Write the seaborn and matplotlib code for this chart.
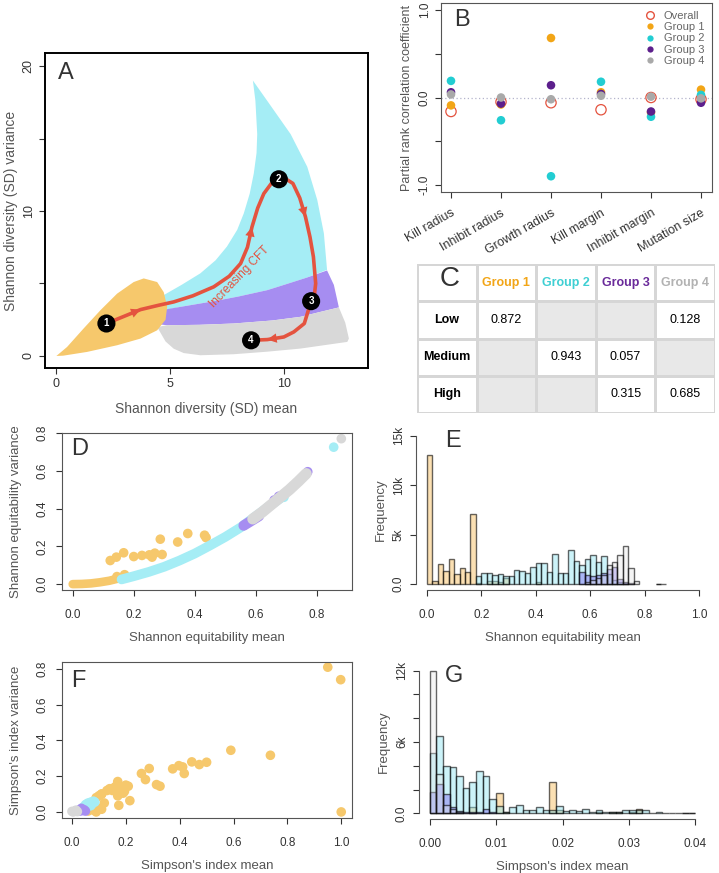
import numpy as np
import pandas as pd
import seaborn as sns
import matplotlib.pyplot as plt
from matplotlib.lines import Line2D
from matplotlib.colors import ListedColormap

sns.set_style('ticks')
plt.rcParams['font.family'] = ['Liberation Sans', 'DejaVu Sans']
plt.rcParams['xtick.color'] = '#333333'
plt.rcParams['ytick.color'] = '#333333'
plt.rcParams['axes.labelcolor'] = '#555555'

# group colours
c_g1, c_g2, c_g3, c_g4 = '#F6C86C', '#A5EDF5', '#A68DF1', '#D8D8D8'
dot_g1, dot_g2, dot_g3, dot_g4 = '#F2A516', '#22CDD2', '#5C1F8C', '#A9A9A9'
red = '#E4533F'

# ---------------- A: schematic regions ----------------
a_orange_x = [0.0, 0.47, 1.2, 1.94, 2.67, 3.4, 3.84, 4.43, 4.72, 4.87, 4.8, 4.43, 3.7, 2.67, 1.35, 0.3]
a_orange_y = [0.0, 0.62, 1.9, 3.16, 4.3, 5.1, 5.35, 5.1, 4.4, 3.4, 2.5, 1.77, 1.2, 0.74, 0.28, 0.02]
a_cyan_x = [8.64, 9.27, 10.3, 11.03, 11.47, 11.76, 11.9, 11.0, 10.0, 9.27, 8.0, 7.0, 6.33, 5.5, 4.6,
            4.72, 5.5, 6.33, 7.0, 7.5, 7.95, 8.24, 8.5, 8.68, 8.8, 8.83, 8.75]
a_cyan_y = [19.0, 17.6, 15.3, 13.05, 10.76, 8.46, 5.94, 5.4, 4.9, 4.54, 4.1, 3.8, 3.62, 3.4, 3.1,
            4.2, 4.9, 5.7, 6.6, 7.55, 8.7, 9.84, 11.2, 12.6, 14.0, 15.3, 17.6]
a_purple_x = [4.4, 5.5, 6.33, 7.0, 8.0, 9.27, 10.0, 11.0, 11.9, 12.2, 12.42, 11.5, 10.73, 9.5, 7.8, 6.3, 4.87, 4.4]
a_purple_y = [3.1, 3.4, 3.62, 3.8, 4.1, 4.54, 4.9, 5.4, 5.9, 4.9, 3.35, 3.0, 2.7, 2.45, 2.24, 2.15, 2.12, 2.2]
a_grey_x = [4.43, 4.87, 6.3, 7.8, 9.5, 10.73, 11.5, 12.42, 12.7, 12.86, 12.79, 11.8, 10.73, 9.3, 7.8, 6.33, 5.6, 5.16, 4.8]
a_grey_y = [2.0, 2.12, 2.15, 2.24, 2.45, 2.7, 3.0, 3.35, 2.3, 1.2, 0.97, 0.75, 0.51, 0.3, 0.12, 0.05, 0.2, 0.5, 1.0]
a_path_x = [2.2, 3.0, 3.7, 4.5, 5.16, 6.0, 6.92, 7.6, 8.1, 8.4, 8.6, 8.85, 9.12, 9.45, 9.78, 10.1, 10.4,
            10.7, 10.95, 11.15, 11.3, 11.4, 11.35, 11.2, 10.9, 10.44, 10.0, 9.27, 8.56]
a_path_y = [2.24, 2.75, 3.2, 3.5, 3.73, 4.15, 4.77, 5.5, 6.38, 7.5, 8.9, 10.2, 11.2, 11.9, 12.19, 12.2, 11.9,
            10.9, 9.6, 8.2, 6.84, 5.0, 4.3, 3.78, 2.24, 1.66, 1.31, 1.13, 1.08]
a_arrow_idx = [2, 10, 18, 27]
a_stage_x = [2.2, 9.78, 11.2, 8.56]
a_stage_y = [2.24, 12.19, 3.78, 1.08]
a_stage_lab = ['1', '2', '3', '4']

# ---------------- B: partial rank correlations ----------------
params = ['Kill radius', 'Inhibit radius', 'Growth radius', 'Kill margin', 'Inhibit margin', 'Mutation size']
prcc_overall = [-0.16, -0.05, -0.06, -0.14, 0.0, -0.02]
prcc_g1 = [-0.09, -0.08, 0.68, 0.06, -0.17, 0.09]
prcc_g2 = [0.19, -0.26, -0.90, 0.18, -0.22, 0.03]
prcc_g3 = [0.06, -0.07, 0.14, 0.04, -0.16, -0.06]
prcc_g4 = [0.035, 0.0, -0.02, 0.02, 0.01, -0.01]

# ---------------- C: table ----------------
tab_groups = ['Group 1', 'Group 2', 'Group 3', 'Group 4']
tab_levels = ['Low', 'Medium', 'High']
tab_low = [0.872, np.nan, np.nan, 0.128]
tab_medium = [np.nan, 0.943, 0.057, np.nan]
tab_high = [np.nan, np.nan, 0.315, 0.685]

# ---------------- D: Shannon equitability ----------------
d_g1_band_x = [0.0, 0.03, 0.06, 0.09, 0.12, 0.15, 0.17]
d_g1_band_y = [0.0, 0.001, 0.004, 0.01, 0.018, 0.03, 0.04]
d_g1_x = [0.123, 0.143, 0.167, 0.2, 0.227, 0.251, 0.26, 0.269, 0.287, 0.293, 0.344, 0.377, 0.432, 0.437, 0.145, 0.17]
d_g1_y = [0.125, 0.143, 0.166, 0.146, 0.152, 0.155, 0.143, 0.164, 0.238, 0.157, 0.223, 0.268, 0.259, 0.246, 0.04, 0.05]
d_g2_band_x = [0.16, 0.2, 0.25, 0.3, 0.35, 0.4, 0.45, 0.5, 0.55, 0.6, 0.65, 0.69]
d_g2_band_y = [0.025, 0.042, 0.065, 0.092, 0.125, 0.162, 0.205, 0.25, 0.3, 0.36, 0.42, 0.465]
d_g2_x = [0.855, 0.692]
d_g2_y = [0.725, 0.46]
d_g3_band_x = [0.56, 0.585, 0.61]
d_g3_band_y = [0.31, 0.335, 0.36]
d_g3_x = [0.66, 0.675, 0.77]
d_g3_y = [0.445, 0.465, 0.595]
d_g4_band_x = [0.59, 0.62, 0.65, 0.68, 0.71, 0.74, 0.765]
d_g4_band_y = [0.345, 0.38, 0.42, 0.46, 0.5, 0.545, 0.585]
d_g4_x = [0.88]
d_g4_y = [0.77]

# ---------------- E: histogram, bins of 0.02 ----------------
e_edges = [round(0.02 * i, 2) for i in range(45)]
e_g1 = [13100, 300, 2000, 1300, 2500, 1000, 1600, 1200, 7100, 100, 0, 300, 300, 200, 600, 0, 0, 0, 0, 0,
        200, 0, 0, 0, 0, 0, 0, 0, 0, 0, 0, 0, 0, 0, 0, 0, 0, 0, 0, 0, 0, 0, 0, 0]
e_g2 = [0, 0, 0, 0, 0, 0, 0, 0, 0, 800, 1100, 1100, 900, 1000, 800, 800, 1400, 1300, 1100, 1700,
        2100, 2100, 1200, 3000, 1100, 1100, 3500, 2300, 1900, 2500, 2900, 2200, 2800, 1000, 400, 200,
        100, 0, 0, 0, 0, 0, 50, 0]
e_g3 = [0] * 28 + [1200, 900, 800, 900, 1100, 1500, 1700, 500, 200, 100, 0, 0, 0, 0, 0, 0]
e_g4 = [0] * 29 + [200, 400, 600, 900, 1900, 2200, 2900, 3900, 1600, 300, 0, 0, 0, 50, 50]

# ---------------- F: Simpson's index ----------------
f_g1_x = [0.95, 0.998, 1.0, 0.737, 0.59, 0.5, 0.473, 0.445, 0.417, 0.411, 0.397, 0.374, 0.314, 0.327,
          0.273, 0.287, 0.258, 0.215, 0.174, 0.209, 0.2, 0.17, 0.16, 0.14, 0.17, 0.19, 0.11, 0.09, 0.06,
          0.08, 0.1, 0.11, 0.1, 0.08, 0.11, 0.12, 0.07, 0.06, 0.09, 0.13, 0.15, 0.18, 0.195]
f_g1_y = [0.81, 0.74, 0.0, 0.317, 0.345, 0.278, 0.265, 0.28, 0.215, 0.252, 0.259, 0.241, 0.153, 0.144,
          0.181, 0.243, 0.215, 0.063, 0.037, 0.144, 0.15, 0.17, 0.14, 0.13, 0.09, 0.105, 0.1, 0.08, 0.02,
          0.05, 0.09, 0.1, 0.02, 0.01, 0.015, 0.05, 0.03, 0.005, 0.0, 0.12, 0.12, 0.13, 0.115]
f_g2_x = [0.03, 0.04, 0.05, 0.06, 0.07, 0.08, 0.085, 0.05, 0.06, 0.07, 0.04, 0.075, 0.055]
f_g2_y = [0.01, 0.025, 0.04, 0.05, 0.055, 0.06, 0.055, 0.02, 0.03, 0.035, 0.015, 0.045, 0.045]
f_g3_x = [0.025, 0.035, 0.045, 0.05, 0.03, 0.04]
f_g3_y = [0.01, 0.02, 0.012, 0.005, 0.005, 0.008]
f_g4_x = [0.005, 0.012, 0.02, 0.015, 0.0]
f_g4_y = [0.0, 0.005, 0.002, 0.01, 0.003]

# ---------------- G: histogram, bins of 0.001 ----------------
g_edges = [round(0.001 * i, 3) for i in range(41)]
g_g1 = [0, 0, 0, 0, 0, 0, 500, 0, 0, 0, 1700, 100, 0, 0, 0, 0, 0, 0, 2600, 300, 0, 0, 0, 0, 0, 100, 0,
        100, 100, 0, 100, 400, 0, 0, 0, 0, 0, 0, 50, 50]
g_g2 = [5100, 6500, 4000, 3900, 3100, 2100, 2600, 3600, 3100, 1200, 600, 100, 500, 700, 300, 300, 500,
        300, 300, 600, 200, 300, 200, 400, 100, 300, 100, 100, 100, 300, 300, 300, 300, 50, 100, 50, 50,
        50, 50, 50]
g_g3 = [1800, 2500, 1600, 500, 200, 100, 100, 100, 400, 100] + [0] * 30
g_g4 = [12000, 3300, 700, 400, 100] + [0] * 35


W, H = 719, 873
fig = plt.figure(figsize=(W / 100, H / 100), dpi=100)


def add_ax(x0, y0, x1, y1):
    return fig.add_axes([x0 / W, 1 - y1 / H, (x1 - x0) / W, (y1 - y0) / H])


def panel_letter(ax, s, x, y):
    ax.text(x, y, s, transform=ax.transAxes, fontsize=17, color='#333333', ha='left', va='top')


# ===== A =====
ax = add_ax(45, 53, 368, 368)
ax.fill(a_cyan_x, a_cyan_y, color=c_g2, lw=0)
ax.fill(a_purple_x, a_purple_y, color=c_g3, lw=0)
ax.fill(a_grey_x, a_grey_y, color=c_g4, lw=0)
ax.fill(a_orange_x, a_orange_y, color=c_g1, lw=0)
sns.lineplot(x=a_path_x, y=a_path_y, sort=False, estimator=None, color=red, lw=2.6, ax=ax,
             solid_capstyle='round', solid_joinstyle='round')
for i in a_arrow_idx:
    ax.annotate('', xy=(a_path_x[i], a_path_y[i]), xytext=(a_path_x[i - 1], a_path_y[i - 1]),
                arrowprops=dict(arrowstyle='-|>', color=red, lw=0, mutation_scale=17, shrinkA=0, shrinkB=0))
sns.scatterplot(x=a_stage_x, y=a_stage_y, color='black', s=170, edgecolor='none', ax=ax, zorder=5)
for sx, sy, sl in zip(a_stage_x, a_stage_y, a_stage_lab):
    ax.text(sx, sy, sl, color='white', fontsize=7, fontweight='bold', ha='center', va='center', zorder=6)
ax.text(8.05, 5.45, 'Increasing CFT', color=red, fontsize=8.5, rotation=46, ha='center', va='center')
ax.set_xlim(-0.5, 13.7)
ax.set_ylim(-0.83, 20.9)
ax.set_xticks([0, 5, 10])
ax.set_yticks([0, 5, 10, 15, 20])
ax.set_yticklabels(['0', '', '10', '', '20'], rotation=90, va='center')
for sp in ax.spines.values():
    sp.set_linewidth(1.4)
    sp.set_color('black')
ax.tick_params(labelsize=9, length=4)
ax.set_xlabel('Shannon diversity (SD) mean', fontsize=10, labelpad=8)
ax.set_ylabel('Shannon diversity (SD) variance', fontsize=10, labelpad=3)
panel_letter(ax, 'A', 0.04, 0.97)

# ===== B =====
ax = add_ax(441, 3, 712, 192)
ax.axhline(0, color='#B4B4CC', lw=0.9, ls=(0, (1, 2)), zorder=0)
sns.scatterplot(x=params, y=prcc_overall, color=red, facecolor='none', edgecolor=red, linewidth=0.9,
                s=55, ax=ax, zorder=3)
for vals, col in zip([prcc_g1, prcc_g2, prcc_g3, prcc_g4], [dot_g1, dot_g2, dot_g3, dot_g4]):
    sns.scatterplot(x=params, y=vals, color=col, edgecolor='none', s=38, ax=ax, zorder=4)
ax.set_xlim(-0.2, 5.22)
ax.set_ylim(-1.08, 1.08)
ax.set_xticks(range(len(params)))
ax.set_xticklabels(params, rotation=30, ha='right', rotation_mode='anchor', fontsize=9)
ax.tick_params(axis='x', pad=7)
ax.set_yticks([-1, -0.5, 0, 0.5, 1])
ax.set_yticklabels(['-1.0', '', '0.0', '', '1.0'], rotation=90, va='center', fontsize=8.5)
for sp in ax.spines.values():
    sp.set_color('#555555')
ax.tick_params(length=4)
ax.set_ylabel('Partial rank correlation coefficient', fontsize=9, labelpad=4)
handles = [Line2D([], [], marker='o', ls='', mfc='none', mec=red, ms=5.5)]
handles += [Line2D([], [], marker='o', ls='', mfc=c, mec='none', ms=4.5) for c in [dot_g1, dot_g2, dot_g3, dot_g4]]
ax.legend(handles, ['Overall', 'Group 1', 'Group 2', 'Group 3', 'Group 4'], loc='upper right', frameon=False,
          fontsize=8, labelcolor='#666666', handletextpad=0.2, labelspacing=0.12, borderaxespad=0.3)
panel_letter(ax, 'B', 0.05, 0.97)

# ===== C =====
ax = add_ax(417, 264, 715, 413)
tab_vals = np.array([tab_low, tab_medium, tab_high])
# 4x5 grid: header row + label column around the value cells
grid_fill = np.ones((4, 5))
grid_fill[1:, 1:] = (~np.isnan(tab_vals)).astype(float)
grid_fill[0, 0] = np.nan
grid_txt = np.full((4, 5), '', dtype=object)
for i in range(3):
    for j in range(4):
        if not np.isnan(tab_vals[i, j]):
            grid_txt[i + 1, j + 1] = f'{tab_vals[i, j]:.3f}'
sns.heatmap(grid_fill, cmap=ListedColormap(['#E8E8E8', '#FFFFFF']), vmin=0, vmax=1, cbar=False,
            annot=grid_txt, fmt='', annot_kws={'fontsize': 9, 'color': 'black'},
            linewidths=1.8, linecolor='#D6D6D6', xticklabels=False, yticklabels=False, ax=ax)
head_cols = [dot_g1, '#3FCFD3', '#6A2A9A', '#B2B2B2']
for j, (g, col) in enumerate(zip(tab_groups, head_cols)):
    ax.text(j + 1.5, 0.5, g, color=col, fontsize=9, fontweight='bold', ha='center', va='center')
for i, lev in enumerate(tab_levels):
    ax.text(0.5, i + 1.5, lev, color='black', fontsize=9, fontweight='bold', ha='center', va='center')
ax.text(0.55, 0.4, 'C', fontsize=20, color='#333333', ha='center', va='center')
ax.axis('off')

# ===== D =====
ax = add_ax(62, 433, 352, 590)
msz = 48
for bx, by, px, py, col, lw in [(d_g1_band_x, d_g1_band_y, d_g1_x, d_g1_y, c_g1, 6.2),
                                (d_g2_band_x, d_g2_band_y, d_g2_x, d_g2_y, c_g2, 7.0),
                                (d_g3_band_x, d_g3_band_y, d_g3_x, d_g3_y, c_g3, 7.5),
                                (d_g4_band_x, d_g4_band_y, d_g4_x, d_g4_y, c_g4, 8.0)]:
    sns.lineplot(x=bx, y=by, sort=False, estimator=None, color=col, lw=lw, ax=ax, solid_capstyle='round')
    sns.scatterplot(x=px, y=py, color=col, s=msz, edgecolor='none', ax=ax)
ax.set_xlim(-0.035, 0.915)
ax.set_ylim(-0.031, 0.80)
ax.set_xticks([0, 0.2, 0.4, 0.6, 0.8])
ax.set_xticklabels(['0.0', '0.2', '0.4', '0.6', '0.8'])
ax.set_yticks([0, 0.2, 0.4, 0.6, 0.8])
ax.set_yticklabels(['0.0', '0.2', '0.4', '0.6', '0.8'], rotation=90, va='center')
ax.tick_params(labelsize=8.5, length=4.5)
ax.tick_params(axis='x', pad=9)
ax.tick_params(axis='y', pad=5)
for sp in ax.spines.values():
    sp.set_color('#555555')
ax.set_xlabel('Shannon equitability mean', fontsize=9.5, labelpad=8)
ax.set_ylabel('Shannon equitability variance', fontsize=9.5, labelpad=11)
panel_letter(ax, 'D', 0.03, 0.97)


def hist_panel(ax, edges, groups):
    mids = [(edges[k] + edges[k + 1]) / 2 for k in range(len(edges) - 1)]
    for counts, col, a in groups:
        df = pd.DataFrame({'mid': mids, 'n': counts})
        sns.histplot(data=df, x='mid', weights='n', bins=list(edges), color=col, alpha=a,
                     edgecolor=(0, 0, 0, 0.6), linewidth=1.0, ax=ax)
    # empty bins are not drawn
    for p in list(ax.patches):
        if p.get_height() == 0:
            p.remove()
    sns.despine(ax=ax)
    for sp in ['left', 'bottom']:
        ax.spines[sp].set_color('#555555')
    ax.tick_params(labelsize=8.5, length=4.5)
    ax.tick_params(axis='x', pad=9)


def hist_groups(a, b, c, d):
    return [(a, '#F7B74A', 0.42), (b, '#8FE6F2', 0.45), (c, '#7E6BF0', 0.45), (d, '#E4E4E4', 0.35)]


# ===== E =====
ax = add_ax(416, 430, 710, 590)
hist_panel(ax, e_edges, hist_groups(e_g1, e_g2, e_g3, e_g4))
ax.set_xlim(-0.04, 1.04)
ax.set_ylim(-600, 15600)
ax.spines['bottom'].set_bounds(0, 1)
ax.spines['left'].set_bounds(0, 15000)
ax.set_xticks([0, 0.2, 0.4, 0.6, 0.8, 1.0])
ax.set_xticklabels(['0.0', '0.2', '0.4', '0.6', '0.8', '1.0'])
ax.set_yticks([0, 5000, 10000, 15000])
ax.set_yticklabels(['0.0', '5k', '10k', '15k'], rotation=90, va='center')
ax.set_xlabel('Shannon equitability mean', fontsize=9.5, labelpad=8)
ax.set_ylabel('Frequency', fontsize=9.5, labelpad=4)
panel_letter(ax, 'E', 0.1, 1.0)

# ===== F =====
ax = add_ax(62, 662, 352, 818)
for px, py, col in [(f_g1_x, f_g1_y, c_g1), (f_g2_x, f_g2_y, c_g2), (f_g3_x, f_g3_y, c_g3), (f_g4_x, f_g4_y, c_g4)]:
    sns.scatterplot(x=px, y=py, color=col, s=msz, edgecolor='none', ax=ax)
ax.set_xlim(-0.037, 1.04)
ax.set_ylim(-0.034, 0.839)
ax.set_xticks([0, 0.2, 0.4, 0.6, 0.8, 1.0])
ax.set_xticklabels(['0.0', '0.2', '0.4', '0.6', '0.8', '1.0'])
ax.set_yticks([0, 0.2, 0.4, 0.6, 0.8])
ax.set_yticklabels(['0.0', '0.2', '0.4', '0.6', '0.8'], rotation=90, va='center')
ax.tick_params(labelsize=8.5, length=4.5)
ax.tick_params(axis='x', pad=9)
ax.tick_params(axis='y', pad=5)
for sp in ax.spines.values():
    sp.set_color('#555555')
ax.set_xlabel("Simpson's index mean", fontsize=9.5, labelpad=8)
ax.set_ylabel("Simpson's index variance", fontsize=9.5, labelpad=11)
panel_letter(ax, 'F', 0.03, 0.95)

# ===== G =====
ax = add_ax(419, 665, 706, 819)
hist_panel(ax, g_edges, hist_groups(g_g1, g_g2, g_g3, g_g4))
ax.set_xlim(-0.0016, 0.0416)
ax.set_ylim(-480, 12480)
ax.spines['bottom'].set_bounds(0, 0.04)
ax.spines['left'].set_bounds(0, 12000)
ax.set_xticks([0, 0.01, 0.02, 0.03, 0.04])
ax.set_xticklabels(['0.00', '0.01', '0.02', '0.03', '0.04'])
ax.set_yticks(range(0, 12001, 2000))
ax.set_yticklabels(['0.0', '', '', '6k', '', '', '12k'], rotation=90, va='center')
ax.set_xlabel("Simpson's index mean", fontsize=9.5, labelpad=8)
ax.set_ylabel('Frequency', fontsize=9.5, labelpad=4)
panel_letter(ax, 'G', 0.09, 1.0)

fig.savefig('out.png', dpi=100)
